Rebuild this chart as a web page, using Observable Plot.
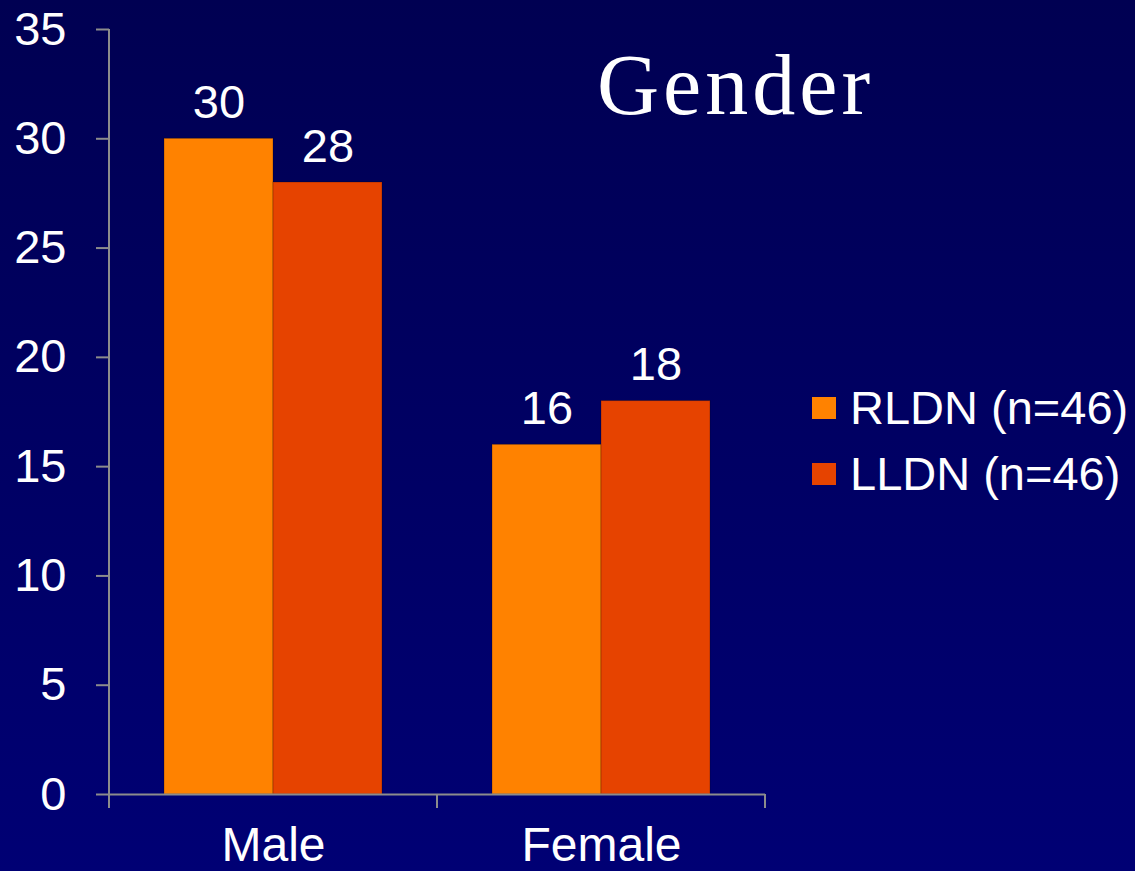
<!DOCTYPE html>
<html>
<head>
<meta charset="utf-8">
<script src="https://cdn.jsdelivr.net/npm/d3@7"></script>
<script src="https://cdn.jsdelivr.net/npm/@observablehq/plot@0.6"></script>
<style>
  html, body { margin: 0; padding: 0; }
  body {
    width: 1135px; height: 871px; overflow: hidden;
    background: linear-gradient(#000052, #000074);
    font-family: "Liberation Sans", Arial, sans-serif;
    color: #fff;
  }
  #wrap { position: relative; width: 1135px; height: 871px; }
  #chart { position: absolute; left: 0; top: 0; }
  #title {
    position: absolute; left: 597px; top: 42px;
    font-family: "Liberation Serif", "Times New Roman", serif;
    font-size: 86px; line-height: 86px; letter-spacing: 4px; color: #fff;
  }
  #legend { position: absolute; left: 812px; top: 375px; }
  .row { display: flex; align-items: center; height: 66px; font-size: 47px; line-height: 66px; }
  .sw { width: 24px; height: 22px; margin-right: 14px; }
</style>
</head>
<body>
<div id="wrap">
  <div id="chart"></div>
  <div id="title">Gender</div>
  <div id="legend"></div>
</div>
<script>
// Patient counts by gender for each group
const genders = ["Male", "Female"];
const series = ["RLDN", "LLDN"];
const seriesLabels = ["RLDN (n=46)", "LLDN (n=46)"];
const rldnValues = [30, 16];
const lldnValues = [28, 18];
const colors = ["#ff8200", "#e64300"];
const yTicks = [0, 5, 10, 15, 20, 25, 30, 35];

const data = [];
genders.forEach((g, i) => {
  data.push({gender: g, series: "RLDN", value: rldnValues[i]});
  data.push({gender: g, series: "LLDN", value: lldnValues[i]});
});

const axisGray = "#8c8c8c";

const plot = Plot.plot({
  width: 1135,
  height: 871,
  marginLeft: 109,
  marginRight: 370,
  marginTop: 29,
  marginBottom: 77,
  style: {background: "transparent", color: "white", fontFamily: "Liberation Sans, Arial, sans-serif", overflow: "visible"},
  fx: {domain: genders, padding: 0, axis: null, label: null},
  x: {domain: series, paddingInner: 0, paddingOuter: 0.5, axis: null},
  y: {domain: [0, 35], axis: null},
  color: {domain: series, range: colors},
  marks: [
    Plot.barY(data, {fx: "gender", x: "series", y: "value", fill: "series",
      stroke: "black", strokeOpacity: 0.25, strokeWidth: 1}),
    Plot.text(data, {fx: "gender", x: "series", y: "value", text: d => String(d.value),
      lineAnchor: "bottom", dy: -21, fill: "white", fontSize: 47}),
    Plot.ruleY([0], {stroke: axisGray, strokeWidth: 2}),
    Plot.axisY({ticks: yTicks, tickSize: 13, tickPadding: 30, stroke: axisGray, strokeWidth: 2,
      fill: "white", fontSize: 47, label: null}),
    Plot.axisFx({anchor: "bottom", tickSize: 0, tickPadding: 32, fontSize: 48, fill: "white", label: null})
  ]
});

document.getElementById("chart").appendChild(plot);

// Vertical y-axis line and the category boundary ticks, placed from the plot's scales
const svg = d3.select(plot);
const fx = plot.scale("fx");
const y = plot.scale("y");
const y0 = y.apply(0);
const left = fx.apply(genders[0]);
const edges = genders.map(g => fx.apply(g)).concat([fx.apply(genders[genders.length - 1]) + fx.bandwidth]);
svg.append("line")
  .attr("x1", left).attr("x2", left)
  .attr("y1", y.apply(35)).attr("y2", y0)
  .attr("stroke", axisGray).attr("stroke-width", 2);
svg.selectAll("line.edge").data(edges).join("line")
  .attr("class", "edge")
  .attr("x1", d => d).attr("x2", d => d)
  .attr("y1", y0).attr("y2", y0 + 14)
  .attr("stroke", axisGray).attr("stroke-width", 2);

// Legend
const legend = d3.select("#legend");
series.forEach((s, i) => {
  const row = legend.append("div").attr("class", "row");
  row.append("div").attr("class", "sw").style("background", colors[i]);
  row.append("span").text(seriesLabels[i]);
});
</script>
</body>
</html>
